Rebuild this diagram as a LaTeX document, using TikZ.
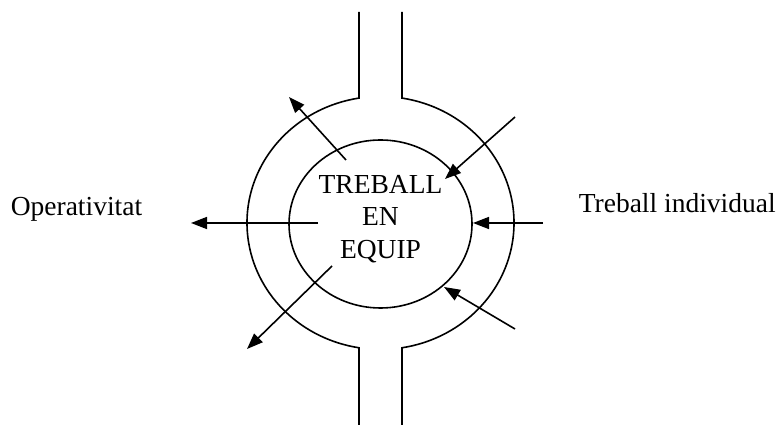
\documentclass[tikz,border=0pt]{standalone}
\usepackage{fontspec}
\setmainfont{Liberation Serif}
\usepackage{tikz}
\usetikzlibrary{shapes.geometric, arrows.meta, positioning, calc}

\begin{document}
\begin{tikzpicture}[x=1pt, y=1pt, line width=1.6pt,
  flow/.style={-{Triangle[length=16pt, width=12pt]}},
  word/.style={inner sep=0pt, font=\fontsize{27.5}{32.5}\selectfont},
  ring/.style={draw, ellipse, minimum width=183pt, minimum height=168pt, inner sep=0pt}]
\useasboundingbox (0,0) rectangle (778,430);

% Centre and the inner ring
\coordinate (centre) at (380.5,207);
\node[ring] (inner) at (380.5,206) {};
\node[word, align=center] (team) at (380.5,211) {TREBALL\\EN\\EQUIP};

% Outer ring with the road going in and out
\draw (359,418) -- (359,331.9)
  arc[start angle=99.27, end angle=260.73, x radius=133.5, y radius=126.5]
  -- (359,5);
\draw (402,418) -- (402,331.9)
  arc[start angle=80.73, end angle=-80.73, x radius=133.5, y radius=126.5]
  -- (402,5);

% Side labels
\node[word, anchor=base west] (out) at (10,214) {Operativitat};
\node[word, anchor=base west] (in) at (578,217) {Treball individual};

% Arrow ends
\coordinate (o1s) at (346,270); \coordinate (o1e) at (289,333);
\coordinate (o2s) at (318,207); \coordinate (o2e) at (191,207);
\coordinate (o3s) at (332,164); \coordinate (o3e) at (247,81);
\coordinate (i1s) at (515,313); \coordinate (i1e) at (445,251);
\coordinate (i2s) at (543,207); \coordinate (i2e) at (473,207);
\coordinate (i3s) at (515,101); \coordinate (i3e) at (444,143);

% Arrows out of the team
\draw[flow] (o1s) -- (o1e);
\draw[flow] (o2s) -- (o2e);
\draw[flow] (o3s) -- (o3e);

% Arrows into the team
\draw[flow] (i1s) -- (i1e);
\draw[flow] (i2s) -- (i2e);
\draw[flow] (i3s) -- (i3e);
\end{tikzpicture}
\end{document}
